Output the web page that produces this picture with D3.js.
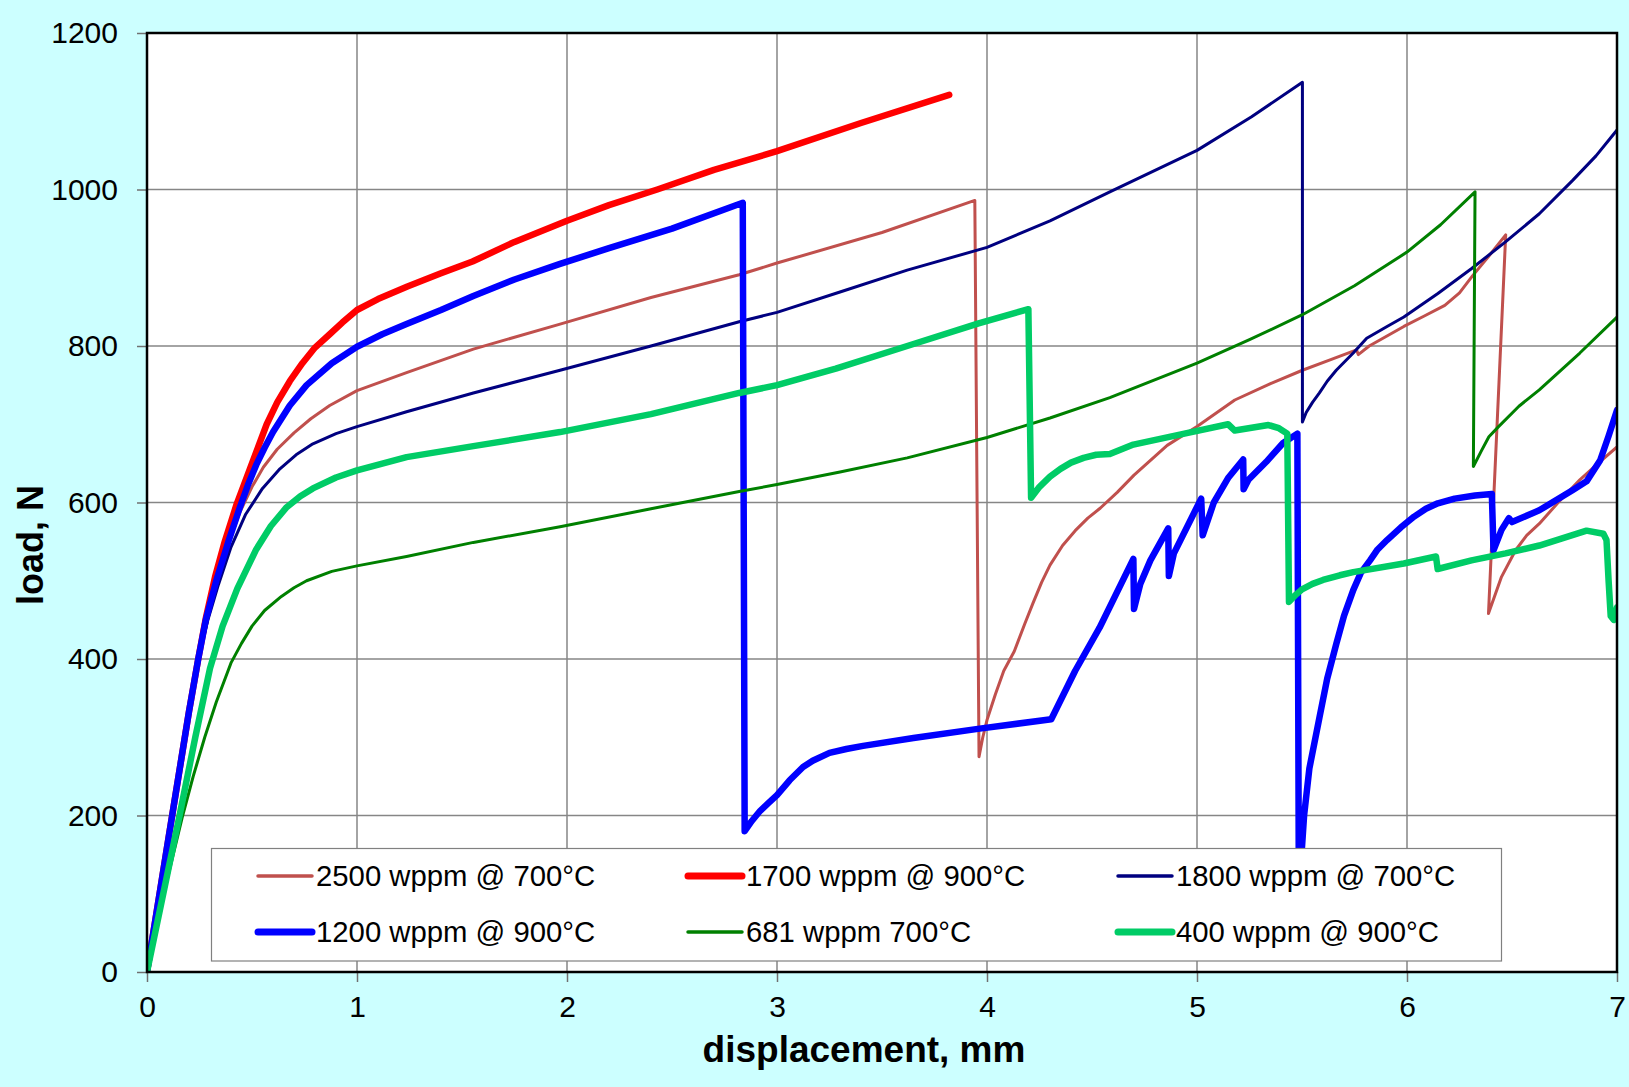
<!DOCTYPE html>
<html>
<head>
<meta charset="utf-8">
<script src="https://cdn.jsdelivr.net/npm/d3@7"></script>
<style>
    body { margin: 0; background: #ccffff; }
    svg { display: block; }
    text { font-family: Arial, "Liberation Sans", sans-serif; }
</style>
</head>
<body>
<svg></svg>
<script>
// series names, colours and widths (legend order)
let seriesNames = ["2500 wppm @ 700°C", "1700 wppm @ 900°C", "1800 wppm @ 700°C",
                   "1200 wppm @ 900°C", "681 wppm 700°C", "400 wppm @ 900°C"];
let seriesColors = ["#c0504d", "#ff0000", "#000080", "#0000ff", "#008000", "#00cc66"];
let seriesWidths = [3, 6.5, 3, 6.5, 3, 6.5];

let xTicks = [0, 1, 2, 3, 4, 5, 6, 7];
let yTicks = [0, 200, 400, 600, 800, 1000, 1200];

// [displacement mm, load N]
let s2500_700 = [[0,0],[0.1,167],[0.2,333],[0.244,400],[0.29,452],[0.335,500],[0.39,550],[0.443,588],
    [0.5,620],[0.554,645],[0.62,668],[0.7,689],[0.78,707],[0.87,724],[1.0,743],[1.236,766],[1.554,796],
    [1.967,828],[2.4,862],[2.82,891],[3.0,906],[3.5,945],[3.942,986],[3.962,275],[3.98,300],[4.0,322],
    [4.04,355],[4.08,385],[4.13,410],[4.18,445],[4.22,472],[4.26,498],[4.3,520],[4.36,545],[4.42,564],
    [4.48,580],[4.54,593],[4.62,613],[4.7,635],[4.858,673],[5.0,697],[5.18,731],[5.35,752],[5.502,769],
    [5.64,783],[5.76,795],[5.768,789],[5.82,800],[5.985,825],[6.08,838],[6.18,852],[6.25,868],[6.31,889],
    [6.39,915],[6.47,942],[6.388,458],[6.45,505],[6.517,539],[6.57,558],[6.63,573],[6.72,600],[6.823,629],
    [6.91,650],[7.0,671]];

let s1700_900 = [[0,0],[0.1,167],[0.2,333],[0.244,400],[0.28,452],[0.324,505],[0.37,550],[0.427,598],
    [0.49,643],[0.57,700],[0.62,728],[0.68,755],[0.74,778],[0.8,798],[0.87,815],[0.93,830],[1.0,846],
    [1.1,860],[1.24,876],[1.4,893],[1.55,908],[1.75,933],[2.0,960],[2.2,980],[2.43,1000],[2.7,1025],
    [3.0,1049],[3.4,1085],[3.82,1121]];

let s1800_700 = [[0,0],[0.1,167],[0.2,333],[0.244,400],[0.29,450],[0.34,495],[0.4,543],[0.47,585],
    [0.55,618],[0.633,643],[0.71,661],[0.79,675],[0.9,688],[1.0,697],[1.236,716],[1.554,740],[1.967,769],
    [2.4,800],[2.82,831],[3.0,843],[3.3,869],[3.62,897],[4.0,926],[4.3,960],[4.585,997],[5.0,1050],
    [5.26,1093],[5.502,1137],[5.502,703],[5.52,715],[5.55,728],[5.583,740],[5.62,755],[5.663,769],
    [5.744,791],[5.808,810],[5.905,825],[5.985,837],[6.147,867],[6.308,899],[6.469,933],[6.63,969],
    [6.79,1012],[6.9,1043],[7.0,1076]];

let s1200_900 = [[0,0],[0.1,167],[0.2,333],[0.244,400],[0.28,450],[0.332,502],[0.39,552],[0.44,592],
    [0.48,622],[0.52,648],[0.56,670],[0.6,690],[0.68,724],[0.76,750],[0.88,778],[1.0,799],[1.12,815],
    [1.236,828],[1.4,846],[1.554,864],[1.75,885],[1.967,905],[2.2,925],[2.5,950],[2.837,983],[2.846,180],
    [2.88,193],[2.92,206],[2.96,216],[3.0,226],[3.06,245],[3.124,262],[3.17,270],[3.25,280],[3.33,285],
    [3.41,289],[3.65,299],[3.965,311],[4.306,323],[4.42,385],[4.536,440],[4.697,528],[4.7,464],[4.73,496],
    [4.778,526],[4.863,567],[4.866,506],[4.89,535],[5.02,605],[5.027,558],[5.08,600],[5.15,632],[5.22,655],
    [5.222,617],[5.245,629],[5.33,652],[5.41,676],[5.478,688],[5.485,100],[5.51,200],[5.535,260],
    [5.583,325],[5.62,375],[5.663,419],[5.7,455],[5.744,488],[5.78,510],[5.824,526],[5.86,540],[5.905,552],
    [5.97,568],[6.034,582],[6.09,592],[6.147,599],[6.227,605],[6.324,609],[6.404,611],[6.412,539],
    [6.45,565],[6.485,580],[6.5,575],[6.63,590],[6.79,616],[6.855,627],[6.92,654],[6.96,685],[7.0,718]];

let s681_700 = [[0,0],[0.08,100],[0.17,200],[0.22,250],[0.275,300],[0.33,345],[0.4,395],[0.45,420],
    [0.5,442],[0.56,462],[0.64,480],[0.7,491],[0.76,500],[0.88,512],[1.0,519],[1.236,531],[1.554,549],
    [1.967,569],[2.4,592],[2.82,614],[3.0,623],[3.3,639],[3.62,657],[4.0,683],[4.3,708],[4.585,734],
    [5.0,778],[5.25,808],[5.502,840],[5.75,877],[6.0,920],[6.16,955],[6.324,997],[6.316,646],[6.356,667],
    [6.39,684],[6.436,697],[6.533,723],[6.63,744],[6.823,791],[7.0,837]];

let s400_900 = [[0,0],[0.155,200],[0.23,300],[0.3,388],[0.36,442],[0.43,490],[0.52,540],[0.59,570],
    [0.665,594],[0.73,608],[0.79,618],[0.9,632],[1.0,641],[1.236,658],[1.554,672],[1.967,690],[2.4,713],
    [2.82,740],[3.0,750],[3.28,771],[3.62,800],[3.96,829],[4.197,847],[4.21,606],[4.25,620],[4.3,633],
    [4.35,643],[4.4,651],[4.46,657],[4.52,661],[4.585,662],[4.697,674],[4.94,688],[5.148,700],[5.18,692],
    [5.34,699],[5.39,695],[5.43,688],[5.438,473],[5.47,482],[5.5,489],[5.55,496],[5.6,501],[5.68,507],
    [5.744,511],[5.985,522],[6.138,531],[6.146,515],[6.307,526],[6.469,535],[6.63,545],[6.855,564],
    [6.935,560],[6.95,552],[6.96,500],[6.97,455],[6.985,450],[7.0,466]];

let seriesData = [s2500_700, s1700_900, s1800_700, s1200_900, s681_700, s400_900];

let width = 1629;
let height = 1087;

let svg = d3.select("svg")
    .attr("width", width)
    .attr("height", height);

svg.append("rect")
    .attr("width", width)
    .attr("height", height)
    .attr("fill", "#ccffff");

let marginLeft = 147;
let marginTop = 33;
let plotW = 1470;
let plotH = 939;

let scaleX = d3.scaleLinear().domain([0, 7]).range([0, plotW]);
let scaleY = d3.scaleLinear().domain([0, 1200]).range([plotH, 0]);

let g = svg.append("g")
    .attr("transform", `translate(${marginLeft}, ${marginTop})`);

g.append("rect")
    .attr("width", plotW)
    .attr("height", plotH)
    .attr("fill", "#ffffff");

// grid
g.selectAll(".gx")
    .data(xTicks.slice(1, -1))
    .enter()
    .append("line")
    .attr("x1", d => scaleX(d)).attr("x2", d => scaleX(d))
    .attr("y1", 0).attr("y2", plotH)
    .attr("stroke", "#868686").attr("stroke-width", 1.5);

g.selectAll(".gy")
    .data(yTicks.slice(1, -1))
    .enter()
    .append("line")
    .attr("y1", d => scaleY(d)).attr("y2", d => scaleY(d))
    .attr("x1", 0).attr("x2", plotW)
    .attr("stroke", "#868686").attr("stroke-width", 1.5);

// axes
let axisX = d3.axisBottom(scaleX).tickValues(xTicks).tickFormat(d3.format("d"))
    .tickSize(10).tickPadding(14);
let axisY = d3.axisLeft(scaleY).tickValues(yTicks).tickFormat(d3.format("d"))
    .tickSize(10).tickPadding(19);

let gx = g.append("g")
    .attr("transform", `translate(0, ${plotH})`)
    .call(axisX);
let gy = g.append("g").call(axisY);

[gx, gy].forEach(a => {
    a.select(".domain").remove();
    a.selectAll(".tick line").attr("stroke", "#707070").attr("stroke-width", 1.5);
    a.selectAll(".tick text")
        .attr("fill", "#000")
        .style("font-size", "30px")
        .style("font-family", "Arial, 'Liberation Sans', sans-serif");
});

// data lines
g.append("clipPath")
    .attr("id", "clip")
    .append("rect")
    .attr("width", plotW)
    .attr("height", plotH);

let lineF = d3.line()
    .x(d => scaleX(d[0]))
    .y(d => scaleY(d[1]));

g.append("g")
    .attr("clip-path", "url(#clip)")
    .selectAll("path")
    .data(seriesData)
    .enter()
    .append("path")
    .attr("d", d => lineF(d))
    .attr("fill", "none")
    .attr("stroke", (d, i) => seriesColors[i])
    .attr("stroke-width", (d, i) => seriesWidths[i])
    .attr("stroke-linejoin", "round")
    .attr("stroke-linecap", "round");

// plot border
g.append("rect")
    .attr("width", plotW)
    .attr("height", plotH)
    .attr("fill", "none")
    .attr("stroke", "#000")
    .attr("stroke-width", 2.5);

// legend
let legend = svg.append("g");
legend.append("rect")
    .attr("x", 211.5).attr("y", 848.5)
    .attr("width", 1290).attr("height", 112.5)
    .attr("fill", "#fff")
    .attr("stroke", "#808080")
    .attr("stroke-width", 1.2);

let items = legend.selectAll(".item")
    .data(seriesNames)
    .enter()
    .append("g")
    .attr("transform", (d, i) => `translate(${258 + (i % 3) * 430}, ${876 + Math.floor(i / 3) * 56})`);

items.append("line")
    .attr("x1", 0).attr("x2", 54)
    .attr("stroke", (d, i) => seriesColors[i])
    .attr("stroke-width", (d, i) => seriesWidths[i] + 0.5)
    .attr("stroke-linecap", "round");

items.append("text")
    .attr("x", 58)
    .attr("dy", "0.35em")
    .style("font-size", "29.3px")
    .text(d => d);

// axis titles
svg.append("text")
    .attr("x", 864).attr("y", 1062)
    .attr("text-anchor", "middle")
    .style("font-size", "37px")
    .style("font-weight", "bold")
    .text("displacement, mm");

svg.append("text")
    .attr("transform", "translate(43, 545) rotate(-90)")
    .attr("text-anchor", "middle")
    .style("font-size", "36px")
    .style("font-weight", "bold")
    .text("load, N");
</script>
</body>
</html>
